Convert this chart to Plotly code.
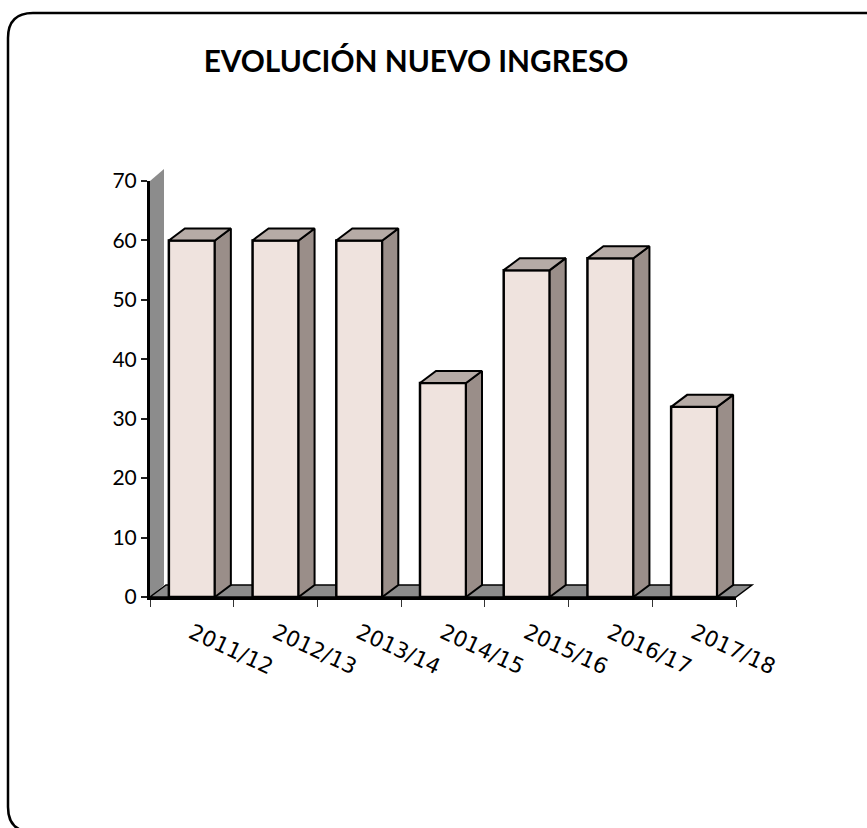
import plotly.graph_objects as go

categories = ["2011/12", "2012/13", "2013/14", "2014/15", "2015/16", "2016/17", "2017/18"]
values = [60, 60, 60, 36, 55, 57, 32]
y_ticks = [0, 10, 20, 30, 40, 50, 60, 70]
title_text = "<b>EVOLUCIÓN NUEVO INGRESO</b>"

W, H = 867, 828
L, R, T, B = 150, 736, 181, 597
cat_w = (R - L) / 7
bar_frac = 46 / cat_w
dx = 16 / cat_w
dy = 12 / ((B - T) / 70)
FRONT, TOP, SIDE, WALL = "#efe3de", "#b6aba6", "#9a8e89", "#8c8c8c"


def px(x):
    return (x - L) / (R - L)


def py(y):
    return (B - y) / (B - T)


def pts(points):
    return "M " + " L ".join(f"{px(x):.5f},{py(y):.5f}" for x, y in points) + " Z"


top_x, top_y, side_x, side_y = [], [], [], []
for i, v in enumerate(values):
    a, b = i - bar_frac / 2, i + bar_frac / 2
    top_x += [a, b, b + dx, a + dx, a, None]
    top_y += [v, v, v + dy, v + dy, v, None]
    side_x += [b, b + dx, b + dx, b, b, None]
    side_y += [0, dy, v + dy, v, 0, None]

fig = go.Figure()
fig.add_trace(go.Bar(x=categories, y=values, width=bar_frac,
                     marker=dict(color=FRONT, line=dict(color="black", width=2.5))))
fig.add_trace(go.Scatter(x=side_x, y=side_y, xaxis="x2", mode="lines", fill="toself", fillcolor=SIDE,
                         line=dict(color="black", width=2), cliponaxis=False))
fig.add_trace(go.Scatter(x=top_x, y=top_y, xaxis="x2", mode="lines", fill="toself", fillcolor=TOP,
                         line=dict(color="black", width=2), cliponaxis=False))

r = 25
fL, fT, fR, fB = 8, 13, 895, 832
frame = (f"M {px(fL):.5f},{py(fT + r):.5f} "
         f"Q {px(fL):.5f},{py(fT):.5f} {px(fL + r):.5f},{py(fT):.5f} "
         f"L {px(fR - r):.5f},{py(fT):.5f} "
         f"Q {px(fR):.5f},{py(fT):.5f} {px(fR):.5f},{py(fT + r):.5f} "
         f"L {px(fR):.5f},{py(fB - r):.5f} "
         f"Q {px(fR):.5f},{py(fB):.5f} {px(fR - r):.5f},{py(fB):.5f} "
         f"L {px(fL + r):.5f},{py(fB):.5f} "
         f"Q {px(fL):.5f},{py(fB):.5f} {px(fL):.5f},{py(fB - r):.5f} Z")

shapes = [
    dict(type="path", xref="paper", yref="paper", layer="below", path=frame,
         line=dict(color="black", width=2.5), fillcolor="white"),
    dict(type="path", xref="paper", yref="paper", layer="below",
         path=pts([(L, B), (L, T), (L + 14, T - 12), (L + 14, B - 12)]),
         line=dict(width=0), fillcolor=WALL),
    dict(type="path", xref="paper", yref="paper", layer="below",
         path=pts([(L, B), (R, B), (R + 16, B - 12), (L + 16, B - 12)]),
         line=dict(color="black", width=1.5), fillcolor=WALL),
]

fig.update_layout(
    width=W, height=H, autosize=False, showlegend=False, hovermode=False,
    margin=dict(l=L, r=W - R, t=T, b=H - B, pad=0),
    paper_bgcolor="white", plot_bgcolor="rgba(0,0,0,0)",
    shapes=shapes,
    title=dict(text=title_text, x=416 / W, xanchor="center", xref="container",
               y=1 - 62 / H, yanchor="middle", yref="container",
               font=dict(family="Lato", size=29.8, color="black")),
    xaxis=dict(type="category", categoryorder="array", categoryarray=categories,
               range=[-0.5, 6.5], tickson="boundaries", ticks="outside", ticklen=7,
               tickwidth=1, tickcolor="#333",
               tickangle=25, ticklabelstandoff=12,
               tickfont=dict(family="DejaVu Sans", size=21.6, color="black"),
               showline=True, linecolor="black", linewidth=3, showgrid=False, zeroline=False,
               fixedrange=True),
    xaxis2=dict(range=[-0.5, 6.5], overlaying="x", visible=False, fixedrange=True),
    yaxis=dict(range=[0, 70], tickmode="array", tickvals=y_ticks,
               ticks="outside", ticklen=6, tickwidth=1.5, tickcolor="#222",
               tickfont=dict(family="Lato", size=21, color="black"),
               showline=True, linecolor="black", linewidth=3, showgrid=False, zeroline=False,
               fixedrange=True),
)

fig.write_html("out.html", config=dict(displayModeBar=False),
               post_script="document.body.style.margin='0';document.body.style.overflow='hidden';")
